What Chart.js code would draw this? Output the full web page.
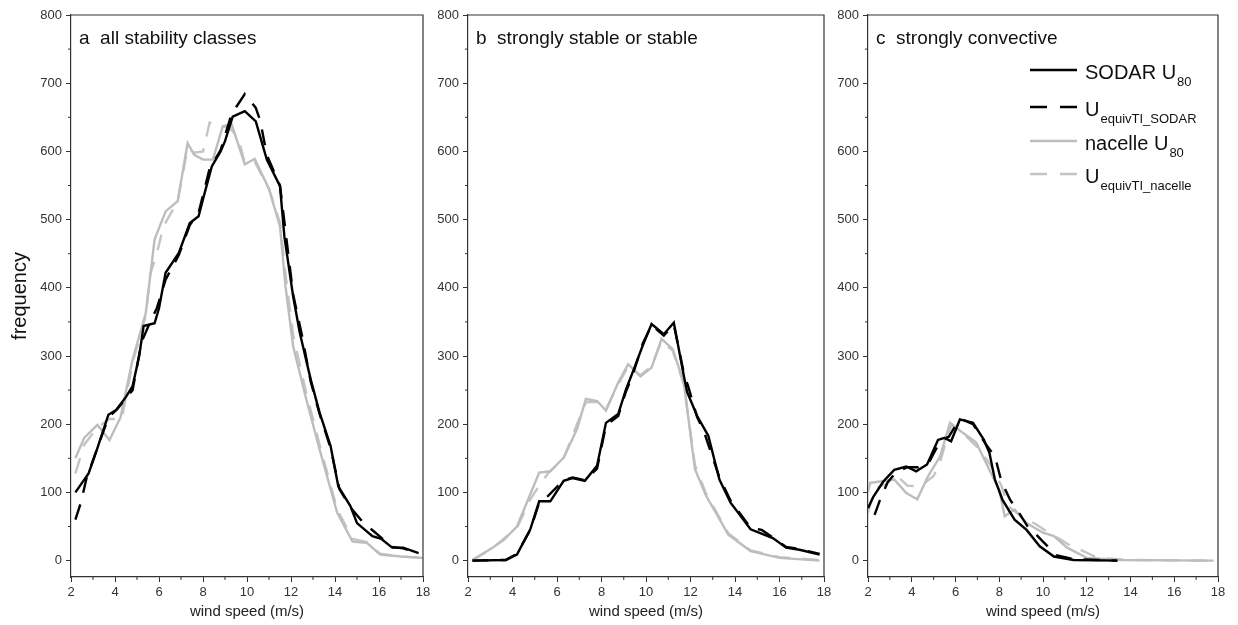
<!DOCTYPE html>
<html>
<head>
<meta charset="utf-8">
<script src="https://cdn.jsdelivr.net/npm/chart.js@4.4.1/dist/chart.umd.min.js"></script>
<style>
  body { margin: 0; background: #fff; }
  #wrap { position: relative; width: 1238px; height: 625px; }
  canvas { position: absolute; top: 0; }
</style>
</head>
<body>
<div id="wrap">
  <canvas id="chartA" width="440" height="625" style="left:0px"></canvas>
  <canvas id="chartB" width="410" height="625" style="left:430px"></canvas>
  <canvas id="chartC" width="408" height="625" style="left:830px"></canvas>
</div>
<script>
// axis ticks
const xTicks = [2, 4, 6, 8, 10, 12, 14, 16, 18];
const yTicks = [0, 100, 200, 300, 400, 500, 600, 700, 800];

// panel a - all stability classes
const speedA_sodar = [2.2, 2.8, 3.2, 3.7, 4.05, 4.5, 4.8, 5.1, 5.3, 5.8, 6.0, 6.3, 6.9, 7.4, 7.8, 8.0, 8.4, 8.8, 9.0, 9.35, 9.9, 10.4, 10.9, 11.5, 11.7, 12.1, 12.4, 12.9, 13.3, 13.8, 14.15, 14.7, 15.0, 15.7, 16.1, 16.6, 17.1, 17.8];
const freqA_sodar  = [100, 128, 165, 214, 221, 240, 256, 300, 344, 348, 370, 422, 451, 495, 505, 530, 578, 600, 615, 651, 659, 644, 588, 549, 475, 387, 334, 265, 217, 168, 109, 80, 55, 36, 32, 19, 19, 11];
const speedA_eqSodar = [2.2, 2.45, 2.7, 3.2, 3.7, 4.1, 4.8, 5.2, 5.6, 5.9, 6.3, 6.9, 7.4, 7.8, 8.3, 8.8, 9.3, 9.9, 10.4, 10.6, 10.9, 11.5, 11.8, 12.1, 12.5, 12.9, 13.3, 13.8, 14.2, 14.7, 15.3, 15.8, 16.6, 17.1, 17.8];
const freqA_eqSodar  = [60, 85, 120, 165, 210, 222, 250, 320, 350, 370, 412, 448, 492, 510, 575, 602, 655, 684, 664, 645, 595, 550, 470, 390, 330, 262, 215, 165, 105, 78, 55, 42, 20, 18, 10];
const speedA_nacelle = [2.2, 2.6, 3.2, 3.75, 4.25, 4.8, 5.4, 5.8, 6.3, 6.85, 7.3, 7.6, 8.0, 8.45, 8.9, 9.3, 9.9, 10.35, 11.0, 11.5, 11.75, 12.1, 12.7, 13.3, 14.1, 14.8, 15.45, 16.05, 17.0, 18.0];
const freqA_nacelle  = [150, 180, 199, 177, 210, 295, 363, 471, 512, 527, 612, 595, 588, 588, 637, 640, 581, 589, 545, 490, 402, 314, 236, 163, 70, 28, 26, 9, 6, 4];
const speedA_eqNacelle = [2.2, 2.6, 3.2, 3.75, 4.3, 4.8, 5.4, 5.6, 5.9, 6.2, 6.85, 7.3, 7.6, 8.0, 8.3, 8.6, 9.2, 9.6, 9.9, 10.35, 11.0, 11.5, 11.75, 12.1, 12.7, 13.3, 14.1, 14.8, 15.45, 16.05, 17.0, 18.0];
const freqA_eqNacelle  = [128, 170, 195, 208, 207, 290, 360, 420, 450, 490, 527, 605, 598, 600, 642, 638, 635, 620, 583, 585, 545, 495, 420, 330, 245, 170, 75, 32, 27, 10, 6, 4];

// panel b - strongly stable or stable
const speedB_sodar = [2.2, 3.7, 4.2, 4.8, 5.2, 5.7, 6.3, 6.7, 7.25, 7.8, 8.2, 8.75, 9.1, 9.4, 9.85, 10.25, 10.8, 11.25, 11.7, 11.85, 12.3, 12.8, 13.3, 13.8, 14.7, 15.7, 16.3, 16.9, 17.8];
const freqB_sodar  = [0, 1, 9, 46, 87, 87, 117, 121, 117, 139, 202, 215, 251, 276, 315, 347, 332, 349, 271, 247, 212, 183, 119, 85, 46, 33, 19, 16, 9];
const speedB_eqSodar = [2.2, 3.7, 4.2, 4.8, 5.2, 5.6, 6.3, 6.7, 7.25, 7.8, 8.2, 8.75, 9.1, 9.4, 9.85, 10.25, 10.8, 11.25, 11.7, 11.9, 12.3, 12.6, 12.8, 13.3, 13.8, 14.7, 15.2, 15.7, 16.3, 16.9, 17.8];
const freqB_eqSodar  = [0, 1, 10, 45, 85, 95, 118, 122, 118, 135, 198, 212, 248, 272, 318, 345, 330, 346, 275, 255, 210, 190, 170, 122, 88, 48, 45, 34, 20, 17, 10];
const speedB_nacelle = [2.2, 3.1, 3.6, 4.2, 5.2, 5.7, 6.3, 6.9, 7.3, 7.8, 8.2, 8.75, 9.2, 9.75, 10.25, 10.7, 11.2, 11.7, 12.2, 12.7, 13.7, 14.7, 16.0, 17.8];
const freqB_nacelle  = [1, 19, 30, 50, 129, 131, 151, 193, 237, 234, 220, 261, 288, 270, 283, 325, 310, 261, 134, 95, 38, 14, 4, 0];
const speedB_eqNacelle = [2.2, 3.1, 3.6, 4.2, 4.8, 5.2, 5.6, 6.3, 6.9, 7.3, 7.8, 8.2, 8.75, 9.2, 9.75, 10.25, 10.7, 11.2, 11.7, 12.2, 12.7, 13.7, 14.7, 16.0, 17.8];
const freqB_eqNacelle  = [1, 18, 32, 48, 90, 110, 128, 150, 200, 232, 233, 222, 258, 285, 272, 285, 322, 308, 258, 140, 98, 40, 15, 5, 1];

// panel c - strongly convective
const speedC_sodar = [2.0, 2.25, 2.7, 3.2, 3.75, 4.2, 4.7, 5.2, 5.5, 5.8, 6.2, 6.8, 7.3, 7.55, 7.8, 8.15, 8.7, 9.25, 9.85, 10.5, 11.4, 13.4];
const freqC_sodar  = [77, 94, 116, 133, 138, 131, 141, 177, 180, 175, 207, 202, 177, 158, 119, 89, 60, 45, 21, 6, 1, 0];
const speedC_eqSodar = [2.3, 2.55, 2.9, 3.3, 3.8, 4.3, 4.8, 5.3, 5.7, 6.0, 6.3, 6.8, 7.4, 7.8, 8.1, 8.5, 8.8, 9.3, 9.6, 10.0, 10.6, 11.4, 13.4];
const freqC_eqSodar  = [67, 89, 115, 130, 137, 137, 145, 175, 182, 198, 207, 200, 170, 153, 116, 89, 75, 50, 41, 28, 8, 2, 0];
const speedC_nacelle = [2.0, 2.1, 2.55, 3.2, 3.75, 4.25, 4.75, 5.3, 5.75, 6.35, 6.95, 7.55, 8.0, 8.25, 8.7, 9.25, 10.0, 10.5, 11.1, 12.0, 13.5, 17.8];
const freqC_nacelle  = [100, 114, 116, 119, 99, 90, 124, 153, 202, 187, 173, 133, 104, 65, 75, 55, 41, 36, 19, 4, 1, 0];
const speedC_eqNacelle = [2.0, 2.3, 2.8, 3.3, 3.8, 4.4, 5.0, 5.3, 5.7, 5.85, 6.4, 7.1, 7.6, 8.1, 8.4, 8.8, 9.3, 9.7, 10.2, 10.8, 11.4, 11.7, 12.5, 14.0, 17.8];
const freqC_eqNacelle  = [70, 105, 112, 125, 110, 109, 124, 145, 190, 199, 185, 163, 140, 110, 80, 70, 60, 53, 42, 31, 19, 16, 4, 1, 0];

const seriesNames = ['SODAR U80', 'UequivTI_SODAR', 'nacelle U80', 'UequivTI_nacelle'];
const seriesColors = ['#000000', '#000000', '#bdbdbd', '#c4c4c4'];
const seriesDash = [[], [16, 12], [], [16, 12]];
// legend text as [main, subscript]
const legendParts = [['SODAR U', '80'], ['U', 'equivTI_SODAR'], ['nacelle U', '80'], ['U', 'equivTI_nacelle']];

const FONT = '"Liberation Sans", Arial, sans-serif';

// top/right frame, minor ticks, panel label, legend
const decorPlugin = {
  id: 'decor',
  afterDraw(chart, args, opts) {
    const { ctx, chartArea: a, scales } = chart;
    ctx.save();
    ctx.strokeStyle = '#333';
    ctx.lineWidth = 1.2;
    ctx.beginPath();
    ctx.moveTo(a.left, a.top); ctx.lineTo(a.right, a.top); ctx.lineTo(a.right, a.bottom);
    ctx.stroke();

    ctx.lineWidth = 1;
    ctx.beginPath();
    for (let i = 0; i < xTicks.length - 1; i++) {
      const px = scales.x.getPixelForValue((xTicks[i] + xTicks[i + 1]) / 2);
      ctx.moveTo(px, a.bottom); ctx.lineTo(px, a.bottom + 3);
    }
    for (let i = 0; i < yTicks.length - 1; i++) {
      const py = scales.y.getPixelForValue((yTicks[i] + yTicks[i + 1]) / 2);
      ctx.moveTo(a.left - 3, py); ctx.lineTo(a.left, py);
    }
    ctx.stroke();

    ctx.fillStyle = '#111';
    ctx.font = '19px ' + FONT;
    ctx.textBaseline = 'alphabetic';
    ctx.fillText(opts.label, a.left + 8, a.top + 29);

    if (opts.legend) {
      const lx = a.left + 162;
      let rows = [55, 92, 126, 159];
      legendParts.forEach((p, i) => {
        const y = a.top + rows[i];
        ctx.strokeStyle = seriesColors[i];
        ctx.lineWidth = 2.4;
        ctx.setLineDash(seriesDash[i].length ? [17, 13] : []);
        ctx.beginPath();
        ctx.moveTo(lx, y); ctx.lineTo(lx + 47, y);
        ctx.stroke();
        ctx.setLineDash([]);
        ctx.fillStyle = '#111';
        ctx.font = '20px ' + FONT;
        ctx.fillText(p[0], lx + 55, y + 9);
        const w = ctx.measureText(p[0]).width;
        ctx.font = '13px ' + FONT;
        ctx.fillText(p[1], lx + 55 + w + 1, y + 16);
      });
    }
    ctx.restore();
  }
};

function makeChart(id, label, series, yWidth, padRight, showTitle, showLegend) {
  const ctx = document.getElementById(id).getContext('2d');
  return new Chart(ctx, {
    type: 'line',
    data: {
      datasets: series.map((s, i) => ({
        label: seriesNames[i],
        data: s[0].map((x, j) => ({ x: x, y: s[1][j] })),
        borderColor: seriesColors[i],
        borderDash: seriesDash[i],
        borderWidth: 2.4,
        pointRadius: 0,
        tension: 0,
        fill: false
      }))
    },
    options: {
      responsive: false,
      animation: false,
      layout: { padding: { top: 15, right: padRight, left: 0, bottom: 0 } },
      plugins: {
        legend: { display: false },
        tooltip: { enabled: false },
        decor: { label: label, legend: showLegend }
      },
      scales: {
        x: {
          type: 'linear',
          min: 2, max: 18,
          afterBuildTicks: s => { s.ticks = xTicks.map(v => ({ value: v })); },
          afterFit: s => { s.height = 48; },
          ticks: { autoSkip: false, maxRotation: 0, padding: 3, color: '#333', font: { family: FONT, size: 13 } },
          grid: { drawOnChartArea: false, tickLength: 5, color: '#333', tickWidth: 1 },
          border: { color: '#333', width: 1.2 },
          title: { display: true, text: 'wind speed (m/s)', color: '#222', font: { family: FONT, size: 15 }, padding: { top: 0, bottom: 4 } }
        },
        y: {
          type: 'linear',
          min: -24, max: 800,
          afterBuildTicks: s => { s.ticks = yTicks.map(v => ({ value: v })); },
          afterFit: s => { s.width = yWidth; },
          ticks: { padding: 4, color: '#333', font: { family: FONT, size: 13 } },
          grid: { drawOnChartArea: false, tickLength: 5, color: '#333', tickWidth: 1 },
          border: { color: '#333', width: 1.2 },
          title: { display: showTitle, text: 'frequency', color: '#111', font: { family: FONT, size: 20 }, padding: { top: 8, bottom: 0 } }
        }
      }
    },
    plugins: [decorPlugin]
  });
}

makeChart('chartA', 'a  all stability classes', [
  [speedA_sodar, freqA_sodar], [speedA_eqSodar, freqA_eqSodar],
  [speedA_nacelle, freqA_nacelle], [speedA_eqNacelle, freqA_eqNacelle]
], 71, 17, true, false);

makeChart('chartB', 'b  strongly stable or stable', [
  [speedB_sodar, freqB_sodar], [speedB_eqSodar, freqB_eqSodar],
  [speedB_nacelle, freqB_nacelle], [speedB_eqNacelle, freqB_eqNacelle]
], 38, 16, false, false);

makeChart('chartC', 'c  strongly convective', [
  [speedC_sodar, freqC_sodar], [speedC_eqSodar, freqC_eqSodar],
  [speedC_nacelle, freqC_nacelle], [speedC_eqNacelle, freqC_eqNacelle]
], 38, 20, false, true);
</script>
</body>
</html>
